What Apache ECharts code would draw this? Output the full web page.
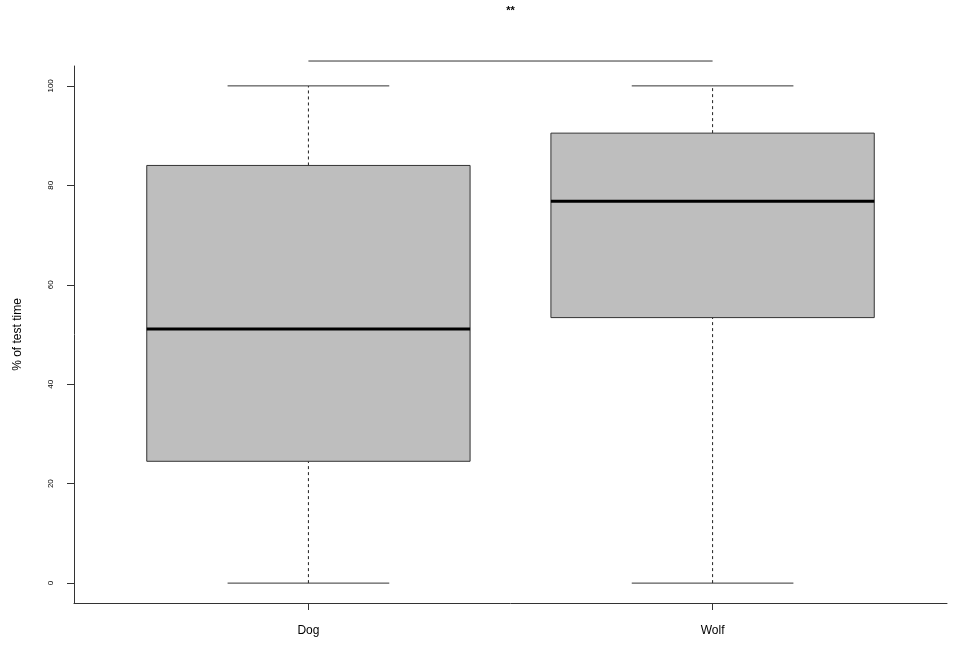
<!DOCTYPE html>
<html>
<head>
<meta charset="utf-8">
<script src="https://cdn.jsdelivr.net/npm/echarts@6/dist/echarts.min.js"></script>
<style>
  html, body { margin: 0; padding: 0; background: #fff; }
  #chart { width: 961px; height: 651px; }
</style>
</head>
<body>
<div id="chart"></div>
<script>
// groups and five-number summaries
var categories = ['Dog', 'Wolf'];
var positions = [1, 2];
var mins = [0, 0];
var q1s = [24.5, 53.4];
var medians = [51.1, 76.8];
var q3s = [84.0, 90.5];
var maxs = [100, 100];

// y ticks
var yTicks = [0, 20, 40, 60, 80, 100];

// significance bracket between the two groups
var sigFrom = 1, sigTo = 2, sigLevel = 105, sigLabel = '**', sigLabelLevel = 115;

var FONT = 'Liberation Sans, Arial, sans-serif';
var LINE = '#333';

var boxData = [];
for (var i = 0; i < categories.length; i++) {
  boxData.push([positions[i], mins[i], q1s[i], medians[i], q3s[i], maxs[i]]);
}

function renderBox(params, api) {
  var x = api.value(0);
  var lo = api.value(1), q1 = api.value(2), med = api.value(3), q3 = api.value(4), hi = api.value(5);
  var boxHalf = 0.4, capHalf = 0.2;
  var tl = api.coord([x - boxHalf, q3]);
  var br = api.coord([x + boxHalf, q1]);
  var c = function (xx, yy) { return api.coord([xx, yy]); };
  var dash = { stroke: '#222', lineWidth: 1, lineDash: [3, 3] };
  var solid = { stroke: LINE, lineWidth: 1 };
  return {
    type: 'group',
    children: [
      { type: 'line', shape: { x1: c(x, q3)[0], y1: c(x, q3)[1], x2: c(x, hi)[0], y2: c(x, hi)[1] }, style: dash },
      { type: 'line', shape: { x1: c(x, lo)[0], y1: c(x, lo)[1], x2: c(x, q1)[0], y2: c(x, q1)[1] }, style: dash },
      { type: 'line', shape: { x1: c(x - capHalf, hi)[0], y1: c(x, hi)[1], x2: c(x + capHalf, hi)[0], y2: c(x, hi)[1] }, style: solid },
      { type: 'line', shape: { x1: c(x - capHalf, lo)[0], y1: c(x, lo)[1], x2: c(x + capHalf, lo)[0], y2: c(x, lo)[1] }, style: solid },
      { type: 'rect', shape: { x: tl[0], y: tl[1], width: br[0] - tl[0], height: br[1] - tl[1] },
        style: { fill: '#bebebe', stroke: LINE, lineWidth: 1 } },
      { type: 'line', shape: { x1: tl[0], y1: c(x, med)[1], x2: br[0], y2: c(x, med)[1] },
        style: { stroke: '#000', lineWidth: 3 } }
    ]
  };
}

function renderSig(params, api) {
  var a = api.coord([api.value(0), api.value(2)]);
  var b = api.coord([api.value(1), api.value(2)]);
  var t = api.coord([(api.value(0) + api.value(1)) / 2, api.value(3)]);
  return {
    type: 'group',
    children: [
      { type: 'line', shape: { x1: a[0], y1: a[1], x2: b[0], y2: b[1] }, style: { stroke: LINE, lineWidth: 1 } },
      { type: 'text', x: t[0], y: t[1],
        style: { text: sigLabel, fill: '#000', font: 'bold 11px ' + FONT, align: 'center', verticalAlign: 'middle' } }
    ]
  };
}

var chart = echarts.init(document.getElementById('chart'));
chart.setOption({
  animation: false,
  backgroundColor: '#fff',
  grid: { left: 74, right: 14, top: 66, bottom: 48 },
  xAxis: {
    type: 'value',
    min: 0.42,
    max: 2.58,
    splitLine: { show: false },
    axisLine: { show: true, onZero: false, lineStyle: { color: LINE, width: 1 } },
    axisTick: { show: true, customValues: positions, length: 7, lineStyle: { color: LINE } },
    axisLabel: {
      customValues: positions,
      margin: 22,
      fontFamily: FONT, fontSize: 12, color: '#000',
      formatter: function (v) { return categories[Math.round(v) - 1]; }
    }
  },
  yAxis: {
    type: 'value',
    min: -4,
    max: 104,
    name: '% of test time',
    nameLocation: 'middle',
    nameGap: 50,
    nameTextStyle: { fontFamily: FONT, fontSize: 12, color: '#000' },
    splitLine: { show: false },
    axisLine: { show: true, onZero: false, lineStyle: { color: LINE, width: 1 } },
    axisTick: { show: true, customValues: yTicks, length: 7, lineStyle: { color: LINE } },
    axisLabel: {
      customValues: yTicks,
      rotate: 90,
      margin: 19,
      fontFamily: FONT, fontSize: 8, color: '#000'
    }
  },
  series: [
    {
      type: 'custom',
      clip: false,
      renderItem: renderBox,
      data: boxData
    },
    {
      type: 'custom',
      clip: false,
      renderItem: renderSig,
      data: [[sigFrom, sigTo, sigLevel, sigLabelLevel]]
    }
  ]
});
</script>
</body>
</html>
